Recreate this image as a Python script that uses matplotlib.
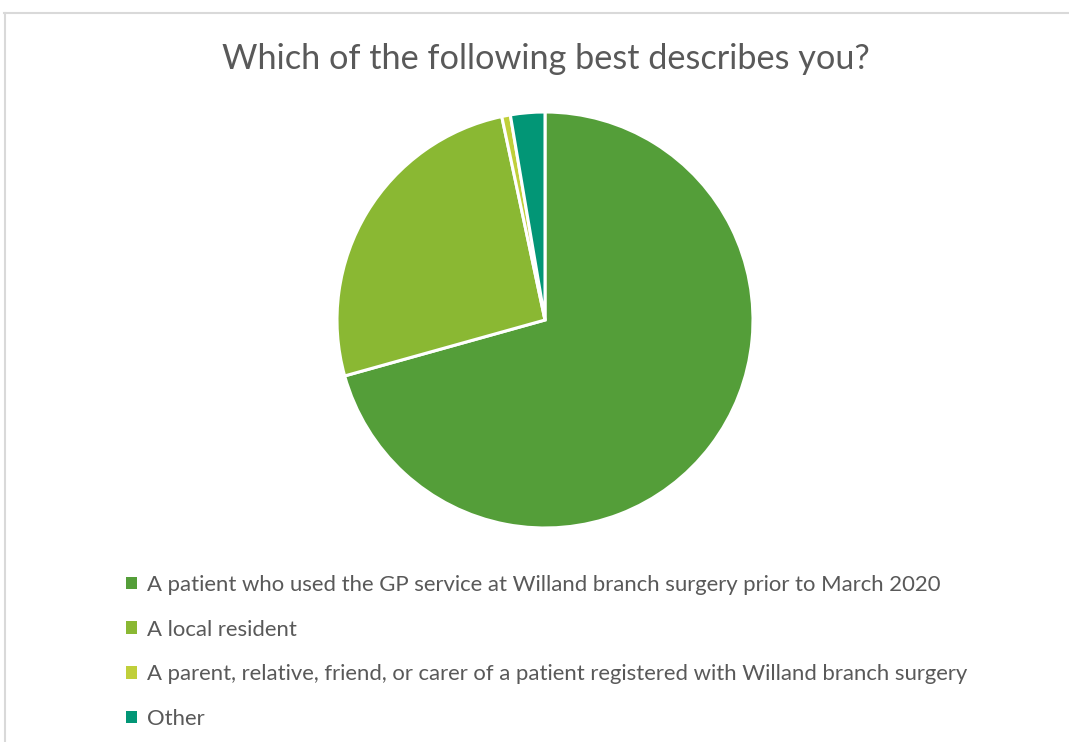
import matplotlib.pyplot as plt
from matplotlib.lines import Line2D

plt.rcParams['font.family'] = ['Lato', 'DejaVu Sans']

# survey answers (counts)
labels = [
    'A patient who used the GP service at Willand branch surgery prior to March 2020',
    'A local resident',
    'A parent, relative, friend, or carer of a patient registered with Willand branch surgery',
    'Other',
]
counts = [106, 39, 1, 4]
colors = ['#549E39', '#8AB833', '#C0CF3A', '#029676']
title = 'Which of the following best describes you?'

W, H = 1069, 742
fig = plt.figure(figsize=(W / 100, H / 100), dpi=100)
fig.patch.set_facecolor('white')

# outer chart frame (top + left edges only visible)
fig.add_artist(Line2D([4 / W, 1 ], [1 - 12.5 / H] * 2, color='#D9D9D9', lw=1.5))
fig.add_artist(Line2D([4.5 / W] * 2, [0, 1 - 12.5 / H], color='#D9D9D9', lw=1.5))

# pie
cx, cy, r = 545, 320, 208
ax = fig.add_axes([(cx - r) / W, (H - cy - r) / H, 2 * r / W, 2 * r / H])
wedges, _ = ax.pie(counts, colors=colors, startangle=90, counterclock=False,
                   wedgeprops=dict(edgecolor='white', linewidth=2.2))
ax.set_aspect('equal')
ax.set_xlim(-1, 1)
ax.set_ylim(-1, 1)

fig.text(546 / W, 1 - 59 / H, title, ha='center', va='center',
         fontsize=24.7, color='#595959')

leg = fig.legend(wedges, labels, loc='upper left', bbox_to_anchor=(117 / W, 1 - 566 / H),
                 frameon=False, fontsize=15.9, labelcolor='#595959',
                 handlelength=0.5, handleheight=0.5, handletextpad=0.45,
                 labelspacing=1.12, borderaxespad=0)
for h in leg.legend_handles:
    h.set_linewidth(0)

fig.savefig('out.png', dpi=100)
